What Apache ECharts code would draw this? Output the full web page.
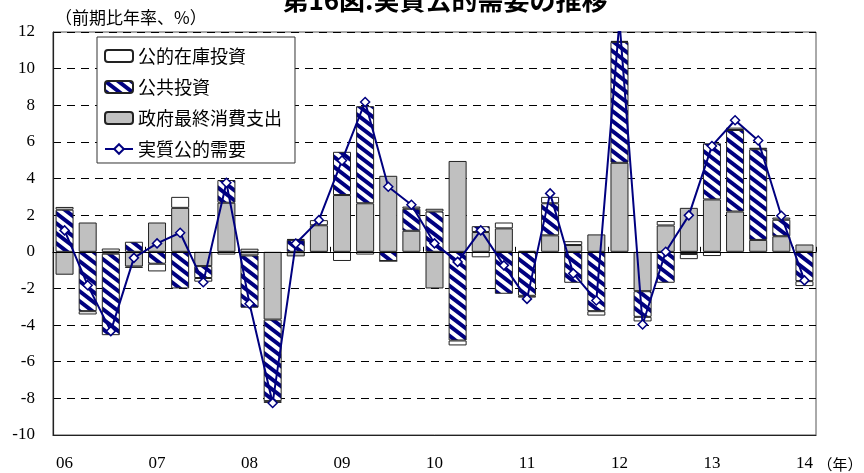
<!DOCTYPE html>
<html>
<head>
<meta charset="utf-8">
<script src="https://cdn.jsdelivr.net/npm/echarts@6/dist/echarts.min.js"></script>
<style>
  html, body { margin: 0; padding: 0; background: #fff; }
  #chart { width: 864px; height: 473px; }
</style>
</head>
<body>
<div id="chart"></div>
<script>
// Quarterly periods, 2006 Q1 to 2014 Q1
const quarters = [
  '06Q1','06Q2','06Q3','06Q4','07Q1','07Q2','07Q3','07Q4',
  '08Q1','08Q2','08Q3','08Q4','09Q1','09Q2','09Q3','09Q4',
  '10Q1','10Q2','10Q3','10Q4','11Q1','11Q2','11Q3','11Q4',
  '12Q1','12Q2','12Q3','12Q4','13Q1','13Q2','13Q3','13Q4',
  '14Q1'
];
// Year tick labels shown under each first quarter
const yearLabels = ['06','07','08','09','10','11','12','13','14'];

// Contributions (annualised q/q %, percentage points)
const govConsumption = [
  -1.25, 1.6, -0.1, -0.8, 1.6, 2.4, -0.78, 2.68,
  -0.2, -3.7, -0.25, 1.45, 3.1, 2.65, 4.15, 1.15,
  -2.0, 4.96, 1.08, 1.28, 0.05, 0.9, 0.37, 0.95,
  4.86, -2.15, 1.44, 2.4, 2.86, 2.2, 0.65, 0.85,
  0.4
];
const publicInvestment = [
  2.3, -3.24, -4.45, 0.55, -0.65, -2.0, -0.65, 1.24,
  -2.85, -4.45, 0.65, -0.05, 2.36, 5.3, -0.5, 1.2,
  2.2, -4.84, 0.32, -2.29, -2.4, 1.75, -1.69, -3.24,
  6.6, -1.4, -1.69, -0.12, 3.06, 4.45, 4.95, 0.9,
  -1.6
];
const publicInventory = [
  0.15, -0.18, 0.18, -0.08, -0.42, 0.6, -0.2, -0.15,
  0.17, -0.1, 0.05, 0.28, -0.5, -0.15, 0, 0.12,
  0.15, -0.27, -0.3, 0.32, -0.1, 0.35, 0.21, -0.24,
  0.05, -0.25, 0.24, -0.28, -0.23, 0.13, 0.08, 0.12,
  -0.27
];
// Real public demand growth
const realPublicDemand = [
  1.17, -1.82, -4.33, -0.33, 0.46, 1.04, -1.66, 3.77,
  -2.84, -8.25, 0.45, 1.73, 4.99, 8.18, 3.55, 2.57,
  0.46, -0.55, 1.17, -0.74, -2.57, 3.19, -1.18, -2.66,
  12.6, -3.97, 0.0, 1.99, 5.78, 7.18, 6.08, 1.97,
  -1.56
];

const names = ['公的在庫投資', '公共投資', '政府最終消費支出', '実質公的需要'];

const serif = 'Liberation Serif, Times New Roman, serif';
const cjk = 'Noto Sans CJK JP, sans-serif';

// Diagonal navy/white stripe tile for the public investment bars
function stripeTile() {
  const w = 13, h = 10;
  const c = document.createElement('canvas');
  c.width = w; c.height = h;
  const g = c.getContext('2d');
  g.fillStyle = '#ffffff';
  g.fillRect(0, 0, w, h);
  g.strokeStyle = '#000080';
  g.lineWidth = 4;
  for (let k = -3; k <= 3; k++) {
    g.beginPath();
    g.moveTo(-w, -h + k * h);
    g.lineTo(2 * w, 2 * h + k * h);
    g.stroke();
  }
  return c;
}

const barBorder = { borderColor: '#222', borderWidth: 1 };
const barWidth = 18;

const chart = echarts.init(document.getElementById('chart'), null, { renderer: 'canvas' });

chart.setOption({
  animation: false,
  backgroundColor: '#fff',
  grid: {
    left: 53, right: 48, top: 32, bottom: 38,
    show: true, borderColor: '#555', borderWidth: 1, backgroundColor: 'transparent'
  },
  graphic: [
    {
      type: 'text', x: 445, y: 0, z: 100,
      style: {
        text: '第16図:実質公的需要の推移',
        font: 'bold 26px ' + cjk, fill: '#000',
        textAlign: 'center', textVerticalAlign: 'middle'
      }
    },
    {
      type: 'text', x: 55, y: 18,
      style: {
        text: '（前期比年率、%）',
        font: '17px ' + cjk, fill: '#000',
        textAlign: 'left', textVerticalAlign: 'middle'
      }
    },
    {
      type: 'text', x: 840, y: 464,
      style: {
        text: '（年）',
        font: '15px ' + cjk, fill: '#000',
        textAlign: 'center', textVerticalAlign: 'middle'
      }
    }
  ],
  legend: {
    orient: 'vertical',
    left: 97, top: 37,
    data: names,
    itemWidth: 28, itemHeight: 12, itemGap: 13,
    padding: [10, 13, 5, 7],
    backgroundColor: '#fff',
    borderColor: '#333', borderWidth: 1, borderRadius: 0,
    textStyle: { fontFamily: cjk, fontSize: 18, color: '#000' },
    z: 10
  },
  xAxis: [
    {
      type: 'category',
      data: quarters,
      position: 'bottom',
      axisLine: { onZero: true, lineStyle: { color: '#000', width: 1.2 } },
      axisTick: { show: true, interval: 3, inside: true, length: 5, lineStyle: { color: '#000' } },
      axisLabel: { show: false },
      splitLine: { show: false },
      z: 5
    },
    {
      type: 'category',
      data: quarters,
      position: 'bottom',
      axisLine: { onZero: false, show: true, lineStyle: { color: '#222', width: 1.2 } },
      axisTick: { show: false },
      axisLabel: {
        interval: 3,
        margin: 20,
        fontFamily: serif, fontSize: 17, color: '#000',
        formatter: (v, i) => yearLabels[i / 4] || ''
      },
      splitLine: { show: false }
    }
  ],
  yAxis: {
    type: 'value',
    min: -10, max: 12, interval: 2,
    axisLine: { show: true, onZero: false, lineStyle: { color: '#222', width: 1.2 } },
    axisTick: { show: false },
    axisLabel: { fontFamily: serif, fontSize: 17, color: '#000', margin: 18 },
    splitLine: { show: true, lineStyle: { color: '#000', type: [8, 6], width: 1 } }
  },
  series: [
    {
      name: names[2], type: 'bar', stack: 'c', data: govConsumption,
      barWidth: barWidth,
      itemStyle: Object.assign({ color: '#c0c0c0' }, barBorder)
    },
    {
      name: names[1], type: 'bar', stack: 'c', data: publicInvestment,
      barWidth: barWidth,
      itemStyle: Object.assign({ color: { image: stripeTile(), repeat: 'repeat' } }, barBorder)
    },
    {
      name: names[0], type: 'bar', stack: 'c', data: publicInventory,
      barWidth: barWidth,
      itemStyle: Object.assign({ color: '#ffffff' }, barBorder)
    },
    {
      name: names[3], type: 'line', data: realPublicDemand,
      z: 20,
      clip: true,
      symbol: 'diamond', symbolSize: 9,
      showAllSymbol: true,
      lineStyle: { color: '#000080', width: 2 },
      itemStyle: { color: '#ffffff', borderColor: '#000080', borderWidth: 1.5 }
    }
  ]
});
</script>
</body>
</html>
